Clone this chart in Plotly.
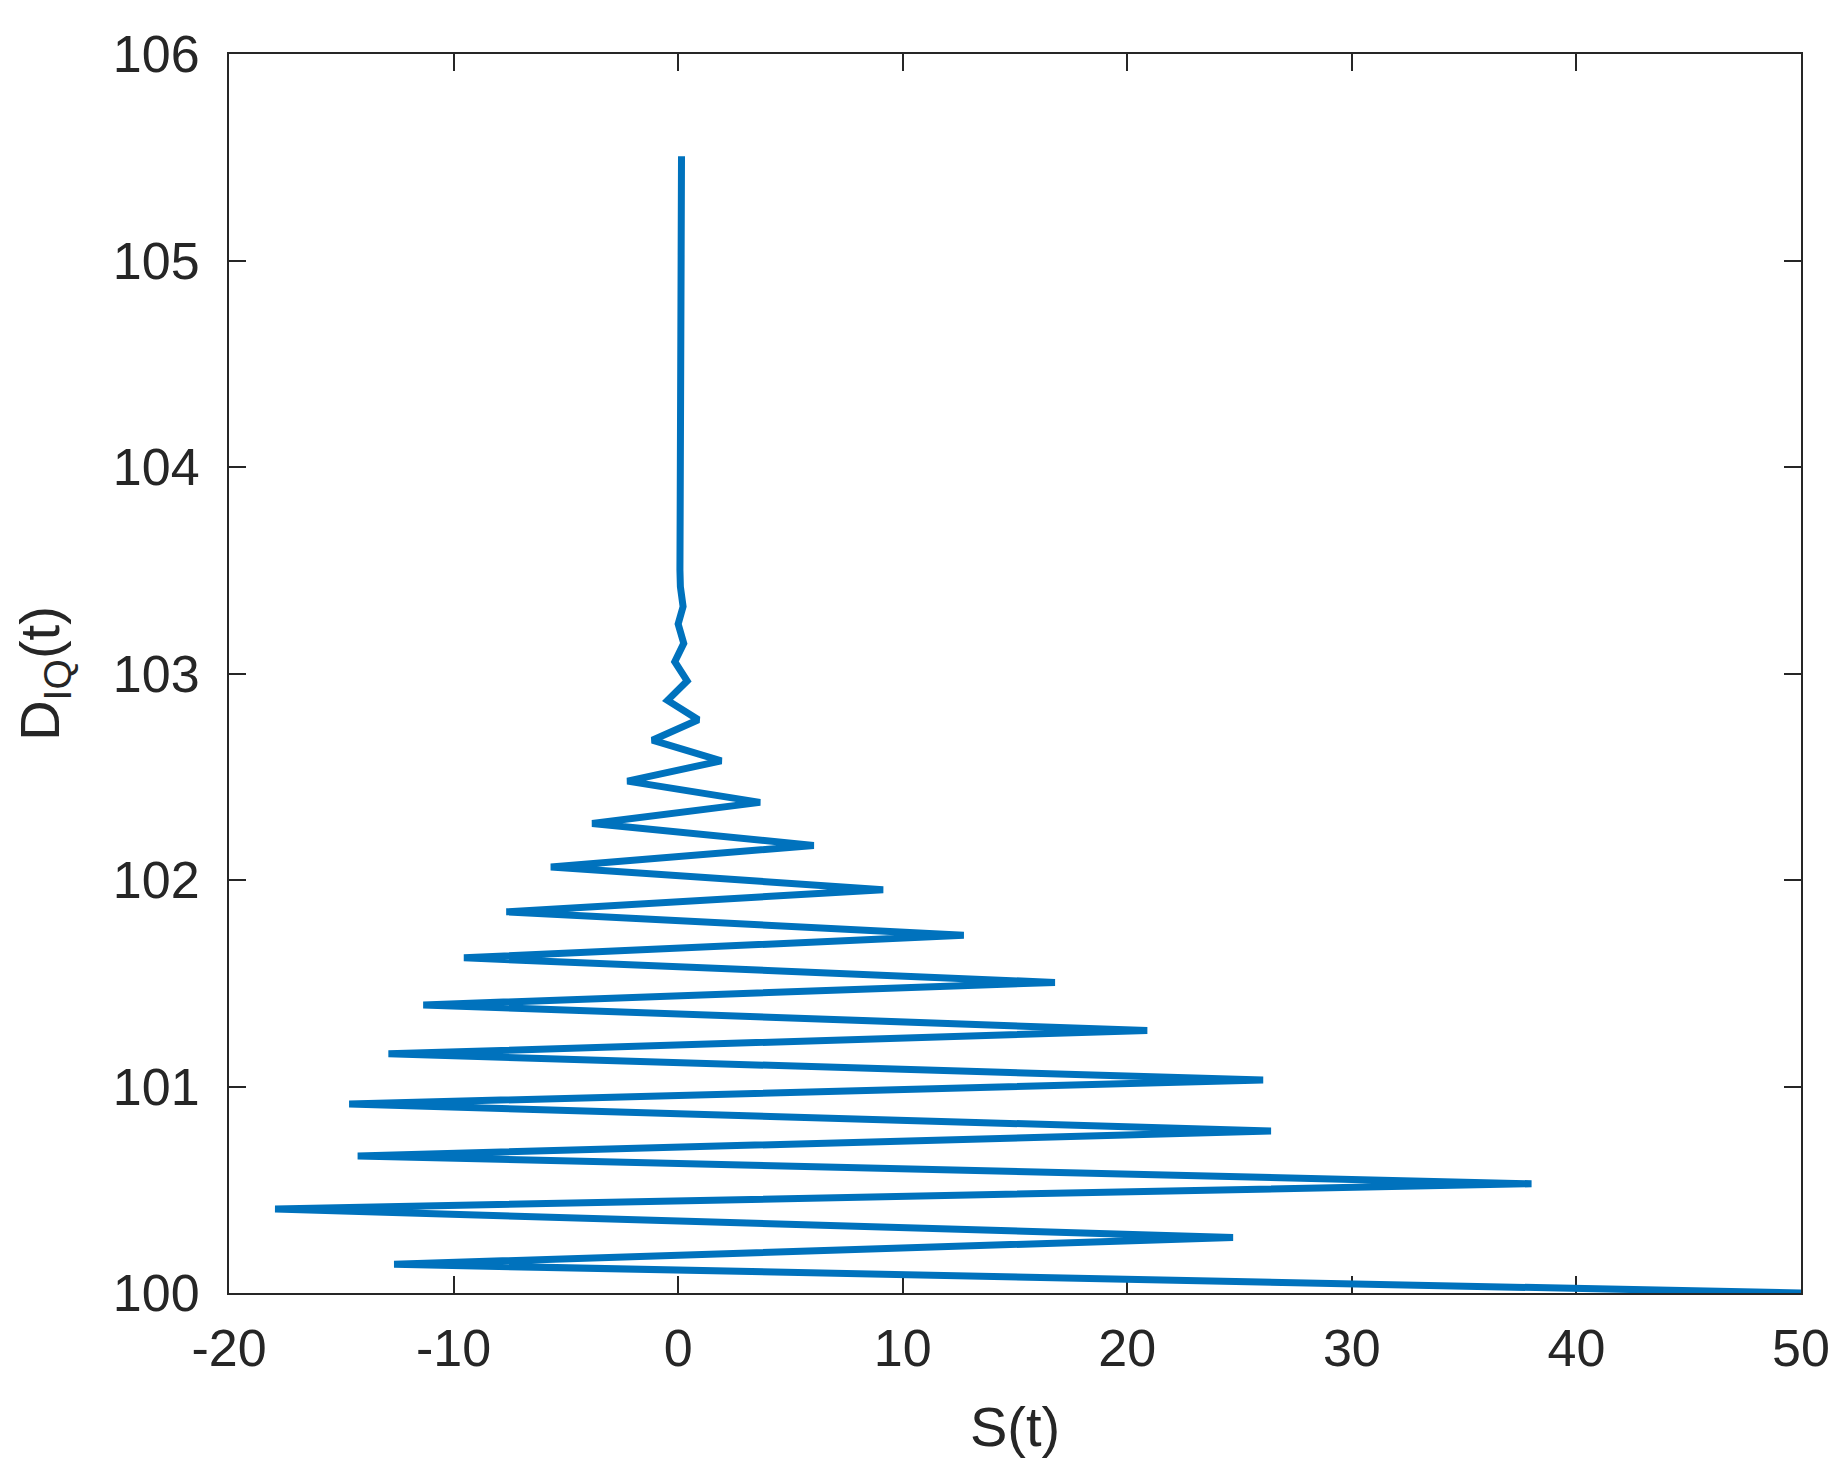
import plotly.graph_objects as go

# S(t) vs D_IQ(t), ordered along the line from the bottom
s_vals = [50, -12.65, 24.71, -17.95, 38.00, -14.27, 26.40, -14.65, 26.05, -12.90,
          20.89, -11.35, 16.78, -9.54, 12.72, -7.65, 9.13, -5.67, 6.04, -3.83,
          3.65, -2.26, 1.92, -1.15, 0.90, -0.47, 0.40, -0.15, 0.25, 0.00,
          0.22, 0.10, 0.08, 0.15]
d_vals = [100.0, 100.139, 100.269, 100.407, 100.529, 100.664, 100.784, 100.915, 101.031, 101.158,
          101.271, 101.395, 101.504, 101.623, 101.732, 101.846, 101.953, 102.063, 102.167, 102.274,
          102.376, 102.479, 102.577, 102.677, 102.776, 102.870, 102.964, 103.057, 103.146, 103.240,
          103.324, 103.42, 103.50, 105.505]

x_ticks = [-20, -10, 0, 10, 20, 30, 40, 50]
x_labels = ['-20', '-10', '0', '10', '20', '30', '40', '50']
y_ticks = [100, 101, 102, 103, 104, 105, 106]

axis_col = '#262626'
font = 'Liberation Sans, Arial, sans-serif'

fig = go.Figure()
fig.add_trace(go.Scatter(
    x=s_vals,
    y=d_vals,
    mode='lines',
    line=dict(color='#0072BD', width=7),
    showlegend=False
))

common = dict(
    showline=True, linecolor=axis_col, linewidth=2, mirror='ticks',
    ticks='inside', ticklen=17, tickwidth=2, tickcolor=axis_col,
    showgrid=False, zeroline=False, layer='below traces',
    tickfont=dict(family=font, size=52, color=axis_col),
)

fig.update_xaxes(range=[-20, 50], tickvals=x_ticks, ticktext=x_labels, ticklabelstandoff=9,
                 title=dict(text='S(t)', font=dict(family=font, size=56, color=axis_col), standoff=30),
                 **common)
fig.update_yaxes(range=[100, 106], tickvals=y_ticks, ticklabelstandoff=17,
                 title=dict(text='D<sub>IQ</sub>(t)', font=dict(family=font, size=56, color=axis_col), standoff=38),
                 **common)

# page body adds ~8px offset, so the figure is a bit smaller than the window
fig.update_layout(
    width=1837, height=1471,
    margin=dict(l=221, r=44, t=46, b=186),
    plot_bgcolor='white', paper_bgcolor='white',
)

fig.write_html("out.html")
